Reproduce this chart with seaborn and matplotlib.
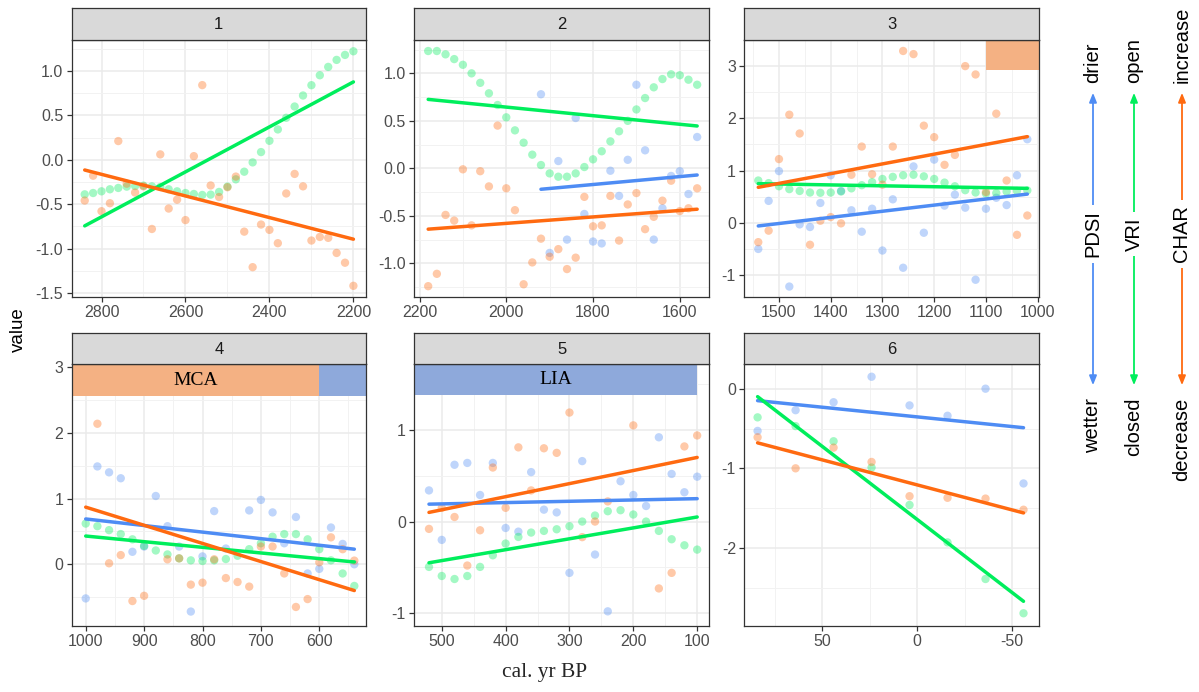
import numpy as np
import pandas as pd
import matplotlib
matplotlib.use("Agg")
import matplotlib.pyplot as plt
import seaborn as sns
from matplotlib.patches import FancyArrowPatch
from matplotlib.ticker import FixedLocator, MultipleLocator, FormatStrFormatter

sns.set_theme(style="white")
plt.rcParams["font.family"] = ["Liberation Sans", "DejaVu Sans"]
plt.rcParams["axes.unicode_minus"] = False

nan = np.nan

# ---------------------------------------------------------------- data
PROXIES = ["PDSI", "VRI", "CHAR"]

P1_YEARS = [2840, 2820, 2800, 2780, 2760, 2740, 2720, 2700, 2680, 2660, 2640,
            2620, 2600, 2580, 2560, 2540, 2520, 2500, 2480, 2460, 2440, 2420,
            2400, 2380, 2360, 2340, 2320, 2300, 2280, 2260, 2240, 2220, 2200]
P1_PDSI = [nan] * 33
P1_VRI = [-0.39, -0.375, -0.356, -0.333, -0.318, -0.303, -0.296, -0.292, -0.30,
          -0.307, -0.333, -0.356, -0.375, -0.386, -0.397, -0.393, -0.363, -0.303,
          -0.221, -0.135, -0.030, 0.086, 0.213, 0.341, 0.472, 0.599, 0.723, 0.839,
          0.951, 1.045, 1.124, 1.180, 1.221]
P1_CHAR = [-0.46, -0.18, -0.58, -0.49, 0.21, -0.27, -0.37, -0.30, -0.78, 0.06,
           -0.55, -0.45, -0.68, 0.04, 0.84, -0.29, -0.42, -0.31, -0.19, -0.81,
           -1.21, -0.73, -0.79, -0.94, -0.38, -0.16, -0.30, -0.91, -0.87, -0.88,
           -1.05, -1.16, -1.42]

P2_YEARS = [2180, 2160, 2140, 2120, 2100, 2080, 2060, 2040, 2020, 2000, 1980,
            1960, 1940, 1920, 1900, 1880, 1860, 1840, 1820, 1800, 1780, 1760,
            1740, 1720, 1700, 1680, 1660, 1640, 1620, 1600, 1580, 1560]
P2_PDSI = [nan] * 13 + [0.78, -0.89, 0.077, -0.75, 0.53, -0.48, -0.77, -0.79,
                        -0.025, -0.29, 0.09, 0.88, 0.19, -0.75, -0.42, -0.08,
                        -0.03, -0.27, 0.33]
P2_VRI = [1.235, 1.235, 1.2, 1.15, 1.09, 1.0, 0.90, 0.79, 0.667, 0.537, 0.40,
          0.27, 0.144, 0.035, -0.053, -0.088, -0.088, -0.053, 0.014, 0.095, 0.18,
          0.284, 0.39, 0.50, 0.62, 0.74, 0.853, 0.94, 0.99, 0.98, 0.933, 0.88]
P2_CHAR = [-1.24, -1.11, -0.49, -0.55, -0.01, -0.60, -0.03, -0.19, 0.45, -0.21,
           -0.44, -1.22, -0.99, -0.74, -0.93, -0.85, -1.06, -0.94, -0.30, -0.61,
           -0.60, -0.29, -0.76, -0.38, -0.26, -0.64, -0.51, -0.34, -0.13, -0.45,
           -0.42, -0.21]

P3_YEARS = [1540, 1520, 1500, 1480, 1460, 1440, 1420, 1400, 1380, 1360, 1340,
            1320, 1300, 1280, 1260, 1240, 1220, 1200, 1180, 1160, 1140, 1120,
            1100, 1080, 1060, 1040, 1020]
P3_PDSI = [-0.50, 0.42, 0.99, -1.22, -0.03, -0.08, 0.38, 0.91, 0.61, 0.24, -0.17,
           0.27, -0.53, 0.45, -0.86, 1.08, -0.19, 1.21, 0.33, 0.54, 0.29, -1.09,
           0.27, 0.48, 0.34, 0.91, 1.60]
P3_VRI = [0.81, 0.76, 0.70, 0.645, 0.61, 0.58, 0.575, 0.58, 0.60, 0.66, 0.72,
          0.78, 0.84, 0.88, 0.91, 0.92, 0.89, 0.84, 0.77, 0.70, 0.625, 0.58, 0.56,
          0.57, 0.60, 0.61, 0.62]
P3_CHAR = [-0.37, -0.15, 1.22, 2.07, 1.71, -0.42, 0.04, 0.11, -0.01, 0.92, 1.46,
           0.93, 0.73, 1.46, 3.29, 3.23, 1.86, 1.64, 1.11, 1.30, 3.0, 2.84, 0.59,
           2.09, 0.81, -0.23, 0.14]

P4_YEARS = [1000, 980, 960, 940, 920, 900, 880, 860, 840, 820, 800, 780, 760,
            740, 720, 700, 680, 660, 640, 620, 600, 580, 560, 540]
P4_PDSI = [-0.52, 1.49, 1.40, 1.31, 0.19, 0.27, 1.04, 0.58, 0.27, -0.72, 0.12,
           0.81, 0.24, nan, 0.82, 0.98, 0.79, 0.32, 0.72, -0.14, -0.07, 0.56,
           0.31, 0.0]
P4_VRI = [0.62, 0.58, 0.52, 0.46, 0.38, 0.28, 0.21, 0.15, 0.09, 0.06, 0.05, 0.06,
          0.08, 0.13, 0.23, 0.32, 0.42, 0.46, 0.46, 0.38, 0.23, 0.06, -0.14, -0.33]
P4_CHAR = [nan, 2.14, 0.015, 0.14, -0.56, -0.48, nan, 0.076, 0.09, -0.31, -0.28,
           0.076, -0.21, -0.27, -0.34, 0.27, 0.27, -0.14, -0.65, -0.53, 0.03,
           0.41, 0.23, 0.056]

P5_YEARS = [520, 500, 480, 460, 440, 420, 400, 380, 360, 340, 320, 300, 280,
            260, 240, 220, 200, 180, 160, 140, 120, 100]
P5_PDSI = [0.34, -0.20, 0.62, 0.64, 0.29, 0.64, -0.07, -0.11, 0.54, 0.13, 0.10,
           -0.56, 0.66, -0.36, -0.98, 0.44, 0.29, 0.17, 0.92, 0.52, 0.32, 0.49]
P5_VRI = [-0.495, -0.594, -0.627, -0.594, -0.495, -0.368, -0.24, -0.168, -0.12,
          -0.102, -0.084, -0.051, 0.0, 0.066, 0.113, 0.124, 0.077, 0.0, -0.102,
          -0.193, -0.259, -0.306]
P5_CHAR = [-0.08, 0.15, 0.05, -0.48, -0.095, 0.59, 0.15, 0.81, 0.34, 0.80, 0.75,
           1.19, -0.17, 0.0, 0.22, nan, 1.05, nan, -0.73, -0.56, 0.82, 0.94]

P6_YEARS = [84, 64, 44, 24, 4, -16, -36, -56]
P6_PDSI = [-0.53, -0.27, -0.17, 0.15, -0.21, -0.34, 0.0, -1.19]
P6_VRI = [-0.36, -0.47, -0.66, -0.99, -1.46, -1.93, -2.39, -2.82]
P6_CHAR = [-0.61, -1.0, -0.74, -0.92, -1.35, -1.37, -1.38, -1.52]

# linear trends per period: (panel, proxy, first year, last year, start value, end value)
TREND_PANEL = [1, 1, 2, 2, 2, 3, 3, 3, 4, 4, 4, 5, 5, 5, 6, 6, 6]
TREND_PROXY = ["VRI", "CHAR", "PDSI", "VRI", "CHAR", "PDSI", "VRI", "CHAR",
               "PDSI", "VRI", "CHAR", "PDSI", "VRI", "CHAR", "PDSI", "VRI", "CHAR"]
TREND_X0 = [2840, 2840, 1920, 2180, 2180, 1540, 1540, 1540, 1000, 1000, 1000,
            520, 520, 520, 84, 84, 84]
TREND_X1 = [2200, 2200, 1560, 1560, 1560, 1020, 1020, 1020, 540, 540, 540,
            100, 100, 100, -56, -56, -56]
TREND_Y0 = [-0.745, -0.116, -0.22, 0.726, -0.64, -0.06, 0.75, 0.68, 0.69, 0.43,
            0.87, 0.19, -0.45, 0.10, -0.15, -0.10, -0.68]
TREND_Y1 = [0.876, -0.895, -0.07, 0.446, -0.43, 0.55, 0.66, 1.65, 0.23, 0.035,
            -0.40, 0.25, 0.05, 0.70, -0.49, -2.67, -1.56]

# climate periods shaded at the top of the panels
ERA_NAMES = ["MCA", "LIA"]
ERA_START = [1100, 600]
ERA_END = [600, 100]

PANEL_SERIES = {
    1: (P1_YEARS, P1_PDSI, P1_VRI, P1_CHAR),
    2: (P2_YEARS, P2_PDSI, P2_VRI, P2_CHAR),
    3: (P3_YEARS, P3_PDSI, P3_VRI, P3_CHAR),
    4: (P4_YEARS, P4_PDSI, P4_VRI, P4_CHAR),
    5: (P5_YEARS, P5_PDSI, P5_VRI, P5_CHAR),
    6: (P6_YEARS, P6_PDSI, P6_VRI, P6_CHAR),
}

rows = []
for pnl, (yrs, *vals) in PANEL_SERIES.items():
    for proxy, series in zip(PROXIES, vals):
        for yr, v in zip(yrs, series):
            rows.append((pnl, proxy, yr, v))
points = pd.DataFrame(rows, columns=["panel", "proxy", "year", "value"]).dropna()

trow = []
for p, pr, x0, x1, y0, y1 in zip(TREND_PANEL, TREND_PROXY, TREND_X0, TREND_X1,
                                 TREND_Y0, TREND_Y1):
    trow.append((p, pr, x0, y0))
    trow.append((p, pr, x1, y1))
trends = pd.DataFrame(trow, columns=["panel", "proxy", "year", "value"])

# ---------------------------------------------------------------- styling
PALETTE = {"PDSI": "#4E8CF4", "VRI": "#00EE5C", "CHAR": "#FF6A10"}
ERA_COLORS = {"MCA": "#F4B183", "LIA": "#8EA9DB"}
BAND_FLOOR = {3: 2.92, 4: 2.56, 5: 1.38}

AXES_SPEC = {
    1: dict(xlim=(2871, 2170), ylim=(-1.546, 1.348), xt=[2800, 2600, 2400, 2200],
            yt=[-1.5, -1.0, -0.5, 0.0, 0.5, 1.0], fmt="%.1f"),
    2: dict(xlim=(2212, 1532), ylim=(-1.354, 1.351), xt=[2200, 2000, 1800, 1600],
            yt=[-1.0, -0.5, 0.0, 0.5, 1.0], fmt="%.1f"),
    3: dict(xlim=(1567, 998), ylim=(-1.42, 3.50),
            xt=[1500, 1400, 1300, 1200, 1100, 1000], yt=[-1, 0, 1, 2, 3], fmt="%d"),
    4: dict(xlim=(1024, 520), ylim=(-0.94, 3.05), xt=[1000, 900, 800, 700, 600],
            yt=[0, 1, 2, 3], fmt="%d"),
    5: dict(xlim=(543, 81), ylim=(-1.14, 1.72), xt=[500, 400, 300, 200, 100],
            yt=[-1, 0, 1], fmt="%d"),
    6: dict(xlim=(91, -64), ylim=(-2.98, 0.31), xt=[50, 0, -50],
            yt=[-2, -1, 0], fmt="%d"),
}

W, H = 1199, 692
fig = plt.figure(figsize=(W / 100, H / 100), dpi=100)
fig.patch.set_facecolor("white")

COLS = [(71.7, 366.0), (414.3, 709.3), (744.3, 1038.7)]
ROWS = [(8.0, 40.0, 297.0), (333.0, 364.0, 626.0)]


def frect(l, t, r, b):
    return [l / W, 1 - b / H, (r - l) / W, (b - t) / H]


EDGE = "#333333"
for pnl in range(1, 7):
    r, c = divmod(pnl - 1, 3)
    left, right = COLS[c]
    s_top, p_top, p_bot = ROWS[r]
    spec = AXES_SPEC[pnl]

    ax = fig.add_axes(frect(left, p_top, right, p_bot))
    ax.set_facecolor("white")
    ax.set_axisbelow(True)

    sub = points[points.panel == pnl]
    sns.scatterplot(data=sub, x="year", y="value", hue="proxy", palette=PALETTE,
                    hue_order=PROXIES, alpha=0.36, s=36, linewidth=0,
                    legend=False, ax=ax, zorder=2)
    tsub = trends[trends.panel == pnl]
    sns.lineplot(data=tsub, x="year", y="value", hue="proxy", palette=PALETTE,
                 hue_order=PROXIES, estimator=None, sort=False, lw=2.5,
                 legend=False, ax=ax, zorder=3)

    ax.set_xlim(*spec["xlim"])
    ax.set_ylim(*spec["ylim"])
    ax.set_xlabel("")
    ax.set_ylabel("")

    ax.xaxis.set_major_locator(FixedLocator(spec["xt"]))
    ax.yaxis.set_major_locator(FixedLocator(spec["yt"]))
    xstep = abs(spec["xt"][1] - spec["xt"][0])
    ystep = abs(spec["yt"][1] - spec["yt"][0])
    ax.xaxis.set_minor_locator(MultipleLocator(xstep / 2))
    ax.yaxis.set_minor_locator(MultipleLocator(ystep / 2))
    ax.xaxis.set_major_formatter(FormatStrFormatter("%d"))
    ax.yaxis.set_major_formatter(FormatStrFormatter(spec["fmt"]))

    ax.grid(which="major", color="#EBEBEB", lw=1.1, zorder=0)
    ax.grid(which="minor", color="#F2F2F2", lw=0.7, zorder=0)
    ax.tick_params(which="major", direction="out", length=3.5, width=0.9,
                   color=EDGE, labelsize=11.5, labelcolor="#4D4D4D", pad=2.5,
                   bottom=True, left=True)
    ax.tick_params(which="minor", length=0)
    for sp in ax.spines.values():
        sp.set_color(EDGE)
        sp.set_linewidth(0.9)

    # period bands
    if pnl in BAND_FLOOR:
        y0, y1 = spec["ylim"]
        frac = (BAND_FLOOR[pnl] - y0) / (y1 - y0)
        xlo, xhi = min(spec["xlim"]), max(spec["xlim"])
        for name, es, ee in zip(ERA_NAMES, ERA_START, ERA_END):
            lo, hi = max(min(es, ee), xlo), min(max(es, ee), xhi)
            if hi <= lo:
                continue
            ax.axvspan(lo, hi, ymin=frac, ymax=1, color=ERA_COLORS[name],
                       lw=0, zorder=1)
            if hi - lo > 200:
                ax.text((lo + hi) / 2, (BAND_FLOOR[pnl] + y1) / 2, name,
                        ha="center", va="center", fontsize=14,
                        family=["Liberation Serif", "DejaVu Serif"],
                        color="black", zorder=4)

    # facet strip
    sax = fig.add_axes(frect(left, s_top, right, p_top))
    sax.set_facecolor("#D9D9D9")
    sax.set_xticks([])
    sax.set_yticks([])
    for sp in sax.spines.values():
        sp.set_color(EDGE)
        sp.set_linewidth(0.9)
    sax.text(0.5, 0.48, str(pnl), transform=sax.transAxes, ha="center",
             va="center", fontsize=12, color="#1A1A1A")

# axis titles
fig.text(545 / W, 1 - 673 / H, "cal. yr BP", ha="center", va="center",
         fontsize=15.5, family=["Liberation Serif", "DejaVu Serif"])
fig.text(18 / W, 1 - 330 / H, "value", ha="center", va="center",
         rotation=90, fontsize=13.5, color="black")

# direction guides for each proxy
GUIDE_X = [1093, 1134, 1182]
GUIDE_TOP_LABEL = ["drier", "open", "increase"]
GUIDE_BOTTOM_LABEL = ["wetter", "closed", "decrease"]
y_top, y_bot, y_mid = 90, 388, 234
for gx, proxy, tl, bl in zip(GUIDE_X, PROXIES, GUIDE_TOP_LABEL, GUIDE_BOTTOM_LABEL):
    col = PALETTE[proxy]
    arr = FancyArrowPatch((gx / W, 1 - y_bot / H), (gx / W, 1 - y_top / H),
                          transform=fig.transFigure,
                          arrowstyle="<|-|>,head_length=0.55,head_width=0.22",
                          mutation_scale=10, lw=1.3, color=col)
    fig.add_artist(arr)
    fig.text(gx / W, 1 - y_mid / H, proxy, rotation=90, ha="center",
             va="center", fontsize=14.5, color="black",
             bbox=dict(facecolor="white", edgecolor="none", pad=4))
    fig.text(gx / W, 1 - 83 / H, tl, rotation=90, ha="center", va="bottom",
             fontsize=14.5, color="black")
    fig.text(gx / W, 1 - 398 / H, bl, rotation=90, ha="center", va="top",
             fontsize=14.5, color="black")

fig.savefig("out.png", dpi=100, facecolor="white")
